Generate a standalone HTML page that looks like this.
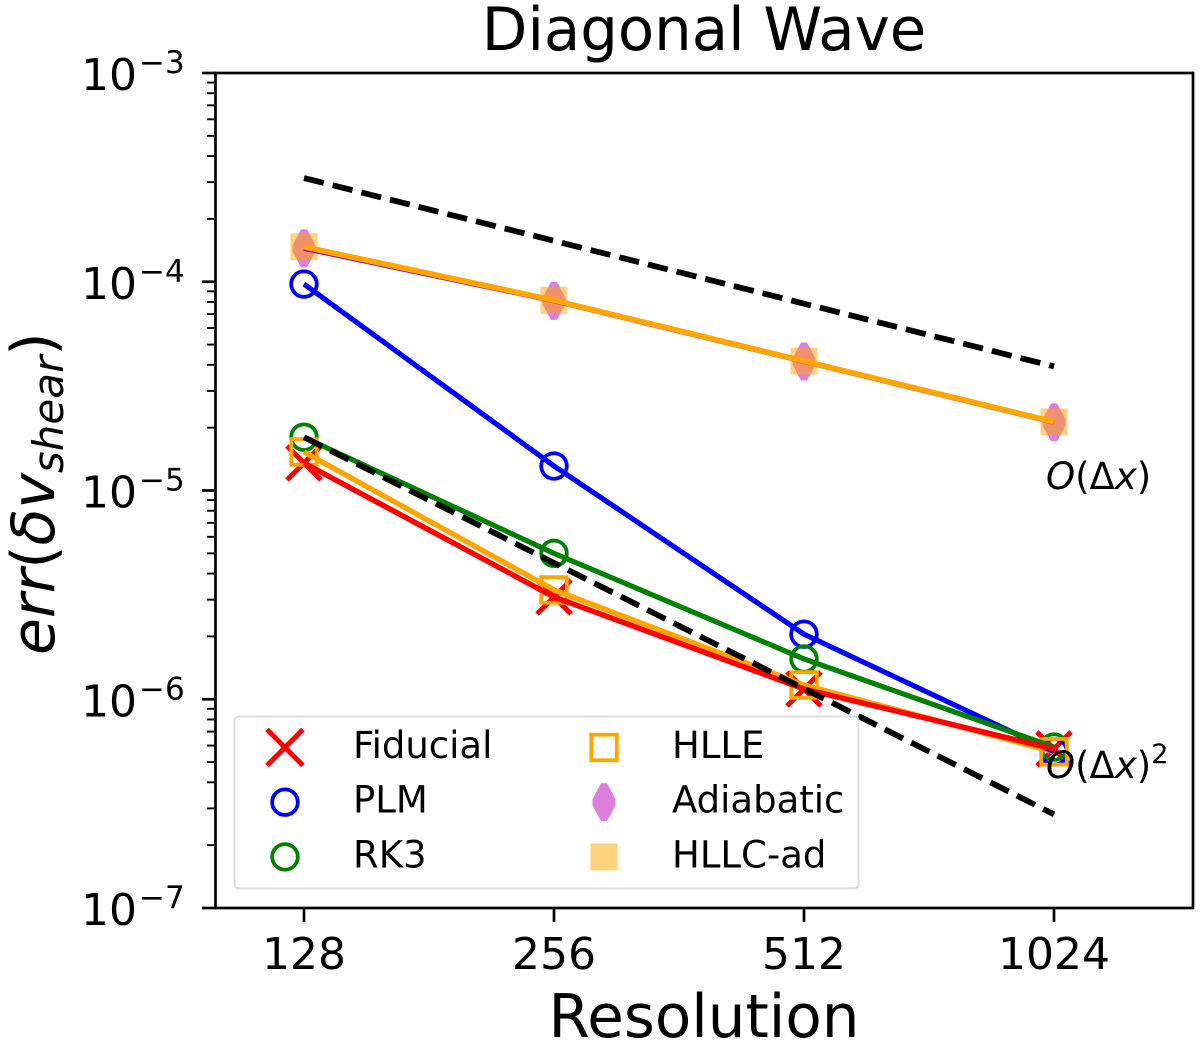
<!DOCTYPE html>
<html>
<head>
<meta charset="utf-8">
<title>Diagonal Wave</title>
<style>
html,body{margin:0;padding:0;background:#fff;width:1200px;height:1045px;overflow:hidden}
svg{display:block}
text{font-family:"DejaVu Sans","Liberation Sans",sans-serif;fill:#000}
.i{font-style:italic}
</style>
</head>
<body>
<svg id="chart" xmlns="http://www.w3.org/2000/svg" width="1200" height="1045" viewBox="0 0 1200 1045">
<text x="704" y="50" font-size="59.3" text-anchor="middle">Diagonal Wave</text>
<text x="704" y="1037" font-size="59.5" text-anchor="middle">Resolution</text>
<text transform="translate(54,655) rotate(-90)" font-size="60"><tspan class="i">err</tspan><tspan>(</tspan><tspan class="i">δv</tspan><tspan class="i" font-size="42" dy="9">shear</tspan><tspan dy="-9">)</tspan></text>
<g id="marks"></g>
<g id="axes"></g>
<text x="1046" y="489" font-size="37"><tspan class="i">O</tspan><tspan>(Δ</tspan><tspan class="i">x</tspan><tspan>)</tspan></text>
<text x="1046" y="778" font-size="37"><tspan class="i">O</tspan><tspan>(Δ</tspan><tspan class="i">x</tspan><tspan>)</tspan><tspan font-size="27" dy="-15">2</tspan></text>
<g id="legend"></g>
</svg>
<script>
const resolutions = [128, 256, 512, 1024];
const xTickLabels = ["128", "256", "512", "1024"];
const yTickExponents = [-3, -4, -5, -6, -7];
const markerOrder = ["Fiducial", "PLM", "RK3", "HLLE", "Adiabatic", "HLLC-ad"];
const lineOrder = ["HLLE", "PLM", "RK3", "Fiducial", "Adiabatic", "HLLC-ad"];
const hlleValues = [1.53e-5, 3.34e-6, 1.17e-6, 5.6e-7];
const plmValues = [9.75e-5, 1.31e-5, 2.05e-6, 5.6e-7];
const rk3Values = [1.8e-5, 5.0e-6, 1.56e-6, 5.9e-7];
const fiducialValues = [1.355e-5, 3.09e-6, 1.12e-6, 5.78e-7];
const adiabaticValues = [1.445e-4, 8.1e-5, 4.15e-5, 2.12e-5];
const hllcValues = [1.47e-4, 8.15e-5, 4.17e-5, 2.13e-5];
const firstOrderValues = [3.14e-4, 3.93e-5];
const firstOrderRes = [128, 1024];
const secondOrderValues = [1.8e-5, 2.81e-7];
const secondOrderRes = [128, 1024];
const legendLeftNames = ["Fiducial", "PLM", "RK3"];
const legendRightNames = ["HLLE", "Adiabatic", "HLLC-ad"];

const NS = "http://www.w3.org/2000/svg";
const marks = document.getElementById("marks");
const axes = document.getElementById("axes");
const legend = document.getElementById("legend");

function xScale(r) { return 304 + Math.log2(r / 128) * 250; }
function yScale(v) { return 73 + (-3 - Math.log10(v)) * 208.75; }

function make(parent, tag, attrs) {
  const el = document.createElementNS(NS, tag);
  for (const k in attrs) el.setAttribute(k, attrs[k]);
  parent.appendChild(el);
  return el;
}
function pts(xs, ys) {
  return xs.map((r, i) => xScale(r) + "," + yScale(ys[i])).join(" ");
}

function drawCross(p, x, y, s, color, w) {
  return make(p, "path", { d: `M${x-s} ${y-s}L${x+s} ${y+s}M${x-s} ${y+s}L${x+s} ${y-s}`, stroke: color, "stroke-width": w, fill: "none" });
}
function drawCircle(p, x, y, color) {
  return make(p, "circle", { cx: x, cy: y, r: 12.8, stroke: color, "stroke-width": 3.8, fill: "none" });
}
function drawOpenSquare(p, x, y, color) {
  return make(p, "rect", { x: x - 12.8, y: y - 12.8, width: 25.6, height: 25.6, stroke: color, "stroke-width": 3.8, fill: "none" });
}
function drawDiamond(p, x, y) {
  return make(p, "polygon", { points: `${x-3},${y-19} ${x+3},${y-19} ${x+11.5},${y-3} ${x+11.5},${y+3} ${x+3},${y+19} ${x-3},${y+19} ${x-11.5},${y+3} ${x-11.5},${y-3}`, fill: "#dd7ddd" });
}
function drawFilledSquare(p, x, y) {
  return make(p, "rect", { x: x - 13.5, y: y - 13.5, width: 27, height: 27, fill: "orange", "fill-opacity": 0.5 });
}

function drawMarker(p, kind, x, y) {
  if (kind === "Fiducial") return drawCross(p, x, y, 17, "red", 5);
  if (kind === "PLM") return drawCircle(p, x, y, "blue");
  if (kind === "RK3") return drawCircle(p, x, y, "green");
  if (kind === "HLLE") return drawOpenSquare(p, x, y, "orange");
  if (kind === "Adiabatic") return drawDiamond(p, x, y);
  return drawFilledSquare(p, x, y);
}

const seriesValues = {
  "HLLE": hlleValues,
  "PLM": plmValues,
  "RK3": rk3Values,
  "Fiducial": fiducialValues,
  "Adiabatic": adiabaticValues,
  "HLLC-ad": hllcValues
};
const seriesLine = {
  "HLLE": ["orange", 5.4],
  "PLM": ["blue", 5.2],
  "RK3": ["green", 5.2],
  "Fiducial": ["red", 5.4],
  "Adiabatic": ["#a000b0", 5],
  "HLLC-ad": ["orange", 5.6]
};

markerOrder.forEach(function (name) {
  const vals = seriesValues[name];
  const slug = name.toLowerCase();
  vals.forEach(function (v, i) {
    const m = drawMarker(marks, name, xScale(resolutions[i]), yScale(v));
    
    
  });
});

lineOrder.forEach(function (name) {
  const vals = seriesValues[name];
  const slug = name.toLowerCase();
  const line = make(marks, "polyline", { points: pts(resolutions, vals), fill: "none", stroke: seriesLine[name][0], "stroke-width": seriesLine[name][1], "stroke-linejoin": "round" });
  
  
});

const firstRef = make(marks, "polyline", { points: pts(firstOrderRes, firstOrderValues), fill: "none", stroke: "#000", "stroke-width": 5.8, "stroke-dasharray": "20.4 9.15" });


const secondRef = make(marks, "polyline", { points: pts(secondOrderRes, secondOrderValues), fill: "none", stroke: "#000", "stroke-width": 5.8, "stroke-dasharray": "20.4 9.15" });



// axes
const frame = make(axes, "rect", { x: 215.5, y: 73, width: 977.5, height: 835, fill: "none", stroke: "#000", "stroke-width": 2.7 });



resolutions.forEach(function (r, i) {
  const x = xScale(r);
  const t = make(axes, "line", { x1: x, x2: x, y1: 908, y2: 922, stroke: "#000", "stroke-width": 2.7 });
  
  
  const lab = make(axes, "text", { x: x, y: 969, "font-size": 44, "text-anchor": "middle" });
  lab.textContent = xTickLabels[i];
  
  
});

yTickExponents.forEach(function (e) {
  const y = yScale(Math.pow(10, e));
  const t = make(axes, "line", { x1: 202, x2: 215.5, y1: y, y2: y, stroke: "#000", "stroke-width": 2.7 });
  
  
  const lab = make(axes, "text", { x: 81, y: y + 17, "font-size": 44 });
  lab.textContent = "10";
  
  
  const sup = make(axes, "text", { x: 139, y: y, "font-size": 31 });
  sup.textContent = "\u2212" + Math.abs(e);
  
  
  if (e > -7) {
    for (let k = 2; k <= 9; k++) {
      const ym = yScale(k * Math.pow(10, e - 1));
      const mt = make(axes, "line", { x1: 207, x2: 215.5, y1: ym, y2: ym, stroke: "#000", "stroke-width": 1.9 });
      
      
    }
  }
});

// legend
const legendBox = make(legend, "rect", { x: 234.5, y: 716.5, width: 624, height: 172, rx: 4, ry: 4, fill: "#fff", "fill-opacity": 0.8, stroke: "#dcdcdc", "stroke-width": 2 });



function legendColumn(names, mx, tx) {
  names.forEach(function (n, i) {
    const y = 747.5 + i * 54.7;
    const kind = n;
    const m = kind === "Fiducial" ? drawCross(legend, mx, y, 18, "red", 5) : drawMarker(legend, kind, mx, y);
    
    
    const t = make(legend, "text", { x: tx, y: y + 10.5, "font-size": 37 });
    t.textContent = n;
    
    
  });
}
legendColumn(legendLeftNames, 285, 353);
legendColumn(legendRightNames, 604, 672);
</script>
</body>
</html>
